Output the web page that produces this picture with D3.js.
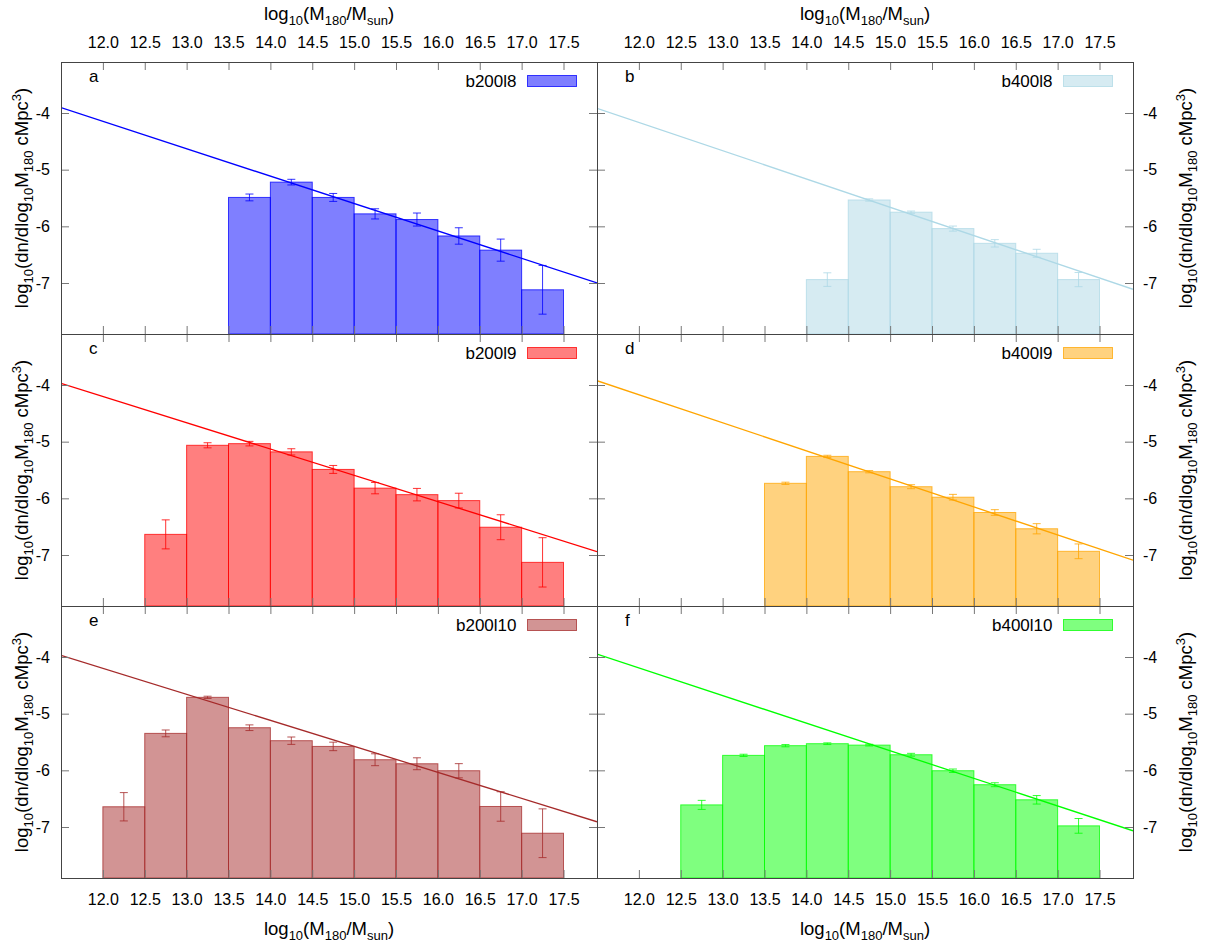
<!DOCTYPE html>
<html>
<head>
<meta charset="utf-8">
<script src="https://cdn.jsdelivr.net/npm/d3@7"></script>
<style>
  html, body { margin: 0; padding: 0; background: #fff; }
  svg { display: block; font-family: "Liberation Sans", Arial, Helvetica, sans-serif; }
</style>
</head>
<body>
<svg id="chart" width="1205" height="947"></svg>
<script>
// ---- data -------------------------------------------------------------
const xTickValues = [12.0, 12.5, 13.0, 13.5, 14.0, 14.5, 15.0, 15.5, 16.0, 16.5, 17.0, 17.5];
const yTickValues = [-4, -5, -6, -7];
const binWidth = 0.5;

const seriesNames = ["b200l8", "b400l8", "b200l9", "b400l9", "b200l10", "b400l10"];
const panelLetters = ["a", "b", "c", "d", "e", "f"];

// bin centres, log10 number density and its uncertainty for each run
const centersB200l8 = [13.75, 14.25, 14.75, 15.25, 15.75, 16.25, 16.75, 17.25];
const valuesB200l8  = [-5.49, -5.22, -5.49, -5.78, -5.88, -6.17, -6.42, -7.12];
const errorsB200l8  = [0.06, 0.05, 0.07, 0.09, 0.115, 0.145, 0.195, 0.43];

const centersB400l8 = [14.25, 14.75, 15.25, 15.75, 16.25, 16.75, 17.25];
const valuesB400l8  = [-6.94, -5.535, -5.75, -6.04, -6.30, -6.475, -6.94];
const errorsB400l8  = [0.12, 0.02, 0.02, 0.045, 0.065, 0.07, 0.125];

const centersB200l9 = [12.75, 13.25, 13.75, 14.25, 14.75, 15.25, 15.75, 16.25, 16.75, 17.25];
const valuesB200l9  = [-6.636, -5.064, -5.035, -5.18, -5.49, -5.82, -5.935, -6.04, -6.51, -7.13];
const errorsB200l9  = [0.256, 0.045, 0.04, 0.055, 0.07, 0.1, 0.11, 0.13, 0.22, 0.435];

const centersB400l9 = [13.75, 14.25, 14.75, 15.25, 15.75, 16.25, 16.75, 17.25];
const valuesB400l9  = [-5.735, -5.26, -5.53, -5.795, -5.98, -6.25, -6.537, -6.935];
const errorsB400l9  = [0.02, 0.02, 0.02, 0.035, 0.05, 0.05, 0.09, 0.13];

const centersB200l10 = [12.25, 12.75, 13.25, 13.75, 14.25, 14.75, 15.25, 15.75, 16.25, 16.75, 17.25];
const valuesB200l10  = [-6.643, -5.348, -4.712, -5.248, -5.477, -5.578, -5.813, -5.884, -6.007, -6.638, -7.11];
const errorsB200l10  = [0.25, 0.06, 0.02, 0.05, 0.065, 0.075, 0.105, 0.105, 0.125, 0.26, 0.43];

const centersB400l10 = [12.75, 13.25, 13.75, 14.25, 14.75, 15.25, 15.75, 16.25, 16.75, 17.25];
const valuesB400l10  = [-6.61, -5.736, -5.565, -5.53, -5.555, -5.725, -6.007, -6.254, -6.52, -6.98];
const errorsB400l10  = [0.08, 0.02, 0.02, 0.015, 0.015, 0.025, 0.03, 0.035, 0.075, 0.13];

// straight-line fits: log10(dn/dlogM) = intercept + slope * log10(M)
const fitSlopes     = [-0.4834, -0.499, -0.464, -0.495, -0.459, -0.487];
const fitIntercepts = [1.653, 1.8215, 1.366, 1.7685, 1.3085, 1.6505];

// ---- styles -----------------------------------------------------------
const seriesColors = ["#0000ff", "#add8e6", "#ff0000", "#ffa500", "#a52a2a", "#00ff00"];

const panels = [
  [centersB200l8, valuesB200l8, errorsB200l8],
  [centersB400l8, valuesB400l8, errorsB400l8],
  [centersB200l9, valuesB200l9, errorsB200l9],
  [centersB400l9, valuesB400l9, errorsB400l9],
  [centersB200l10, valuesB200l10, errorsB200l10],
  [centersB400l10, valuesB400l10, errorsB400l10]
].map(([c, v, e], i) => ({
  name: seriesNames[i],
  letter: panelLetters[i],
  color: seriesColors[i],
  slope: fitSlopes[i],
  intercept: fitIntercepts[i],
  bins: c.map((cc, j) => ({ c: cc, v: v[j], e: e[j] }))
}));

// ---- layout -----------------------------------------------------------
const W = 536, H = 272;
const colLeft = [61, 597];
const rowTop = [62, 334, 606];
const xDomain = [11.5, 17.9];
const yDomain = [-7.9, -3.1];
const tickFont = 16, titleFont = 18.5, subFont = 13;

const svg = d3.select("#chart");
const defs = svg.append("defs");
defs.append("clipPath").attr("id", "plotClip")
  .append("rect").attr("x", 0).attr("y", 0).attr("width", W).attr("height", H);

// text with subscripts / superscripts built from tspans
function richText(sel, parts, size, small) {
  let shift = 0;
  parts.forEach(([t, k]) => {
    const target = k === -1 ? 5 : (k === 1 ? -7 : 0);
    sel.append("tspan")
      .attr("dy", target - shift)
      .attr("font-size", k ? small : size)
      .text(t);
    shift = target;
  });
}
const xTitleParts = [["log", 0], ["10", -1], ["(M", 0], ["180", -1], ["/M", 0], ["sun", -1], [")", 0]];
const yTitleParts = [["log", 0], ["10", -1], ["(dn/dlog", 0], ["10", -1], ["M", 0], ["180", -1],
                     [" cMpc", 0], ["3", 1], [")", 0]];

function styleAxis(g) {
  g.select(".domain").remove();
  g.attr("font-family", null).attr("font-size", tickFont);
  g.selectAll(".tick line").attr("stroke", "#777").attr("stroke-width", 1);
  g.selectAll(".tick text").attr("fill", "#000");
}

panels.forEach((p, i) => {
  const col = i % 2, row = Math.floor(i / 2);
  const g = svg.append("g").attr("transform", `translate(${colLeft[col]},${rowTop[row]})`);
  const x = d3.scaleLinear().domain(xDomain).range([0, W]);
  const y = d3.scaleLinear().domain(yDomain).range([H, 0]);

  const plot = g.append("g").attr("clip-path", "url(#plotClip)");

  // histogram bars
  plot.selectAll("rect.bar").data(p.bins).join("rect")
    .attr("class", "bar")
    .attr("x", d => x(d.c - binWidth / 2))
    .attr("width", d => x(d.c + binWidth / 2) - x(d.c - binWidth / 2))
    .attr("y", d => y(d.v))
    .attr("height", d => H - y(d.v))
    .attr("fill", p.color).attr("fill-opacity", 0.5)
    .attr("stroke", p.color).attr("stroke-opacity", 0.75).attr("stroke-width", 1);

  // error bars
  const eb = plot.selectAll("g.err").data(p.bins).join("g").attr("class", "err")
    .attr("stroke", p.color).attr("stroke-opacity", 0.8).attr("stroke-width", 1);
  eb.append("line")
    .attr("x1", d => x(d.c)).attr("x2", d => x(d.c))
    .attr("y1", d => y(d.v - d.e)).attr("y2", d => y(d.v + d.e));
  eb.append("line")
    .attr("x1", d => x(d.c) - 4).attr("x2", d => x(d.c) + 4)
    .attr("y1", d => y(d.v + d.e)).attr("y2", d => y(d.v + d.e));
  eb.append("line")
    .attr("x1", d => x(d.c) - 4).attr("x2", d => x(d.c) + 4)
    .attr("y1", d => y(d.v - d.e)).attr("y2", d => y(d.v - d.e));

  // power-law fit
  const fit = d3.line().x(m => x(m)).y(m => y(p.intercept + p.slope * m));
  plot.append("path").datum(xDomain)
    .attr("d", fit)
    .attr("fill", "none").attr("stroke", p.color).attr("stroke-width", 1.3);

  // axes with inward ticks on all four sides
  const fmtX = d => d.toFixed(1);
  const fmtY = d => String(d);
  const top = g.append("g").call(
    d3.axisTop(x).tickValues(xTickValues).tickSizeInner(-8).tickSizeOuter(0)
      .tickPadding(14).tickFormat(row === 0 ? fmtX : ""));
  styleAxis(top);
  const bottom = g.append("g").attr("transform", `translate(0,${H})`).call(
    d3.axisBottom(x).tickValues(xTickValues).tickSizeInner(-8).tickSizeOuter(0)
      .tickPadding(16).tickFormat(row === 2 ? fmtX : ""));
  styleAxis(bottom);
  const left = g.append("g").call(
    d3.axisLeft(y).tickValues(yTickValues).tickSizeInner(-8).tickSizeOuter(0)
      .tickPadding(11).tickFormat(col === 0 ? fmtY : ""));
  styleAxis(left);
  const right = g.append("g").attr("transform", `translate(${W},0)`).call(
    d3.axisRight(y).tickValues(yTickValues).tickSizeInner(-8).tickSizeOuter(0)
      .tickPadding(10).tickFormat(col === 1 ? fmtY : ""));
  styleAxis(right);

  // frame
  g.append("rect").attr("x", 0.5).attr("y", 0.5).attr("width", W).attr("height", H)
    .attr("fill", "none").attr("stroke", "#444").attr("stroke-width", 1);

  // panel letter
  g.append("text").attr("x", 28).attr("y", 20).attr("font-size", 17).text(p.letter);

  // key
  g.append("text").attr("x", 455.5).attr("y", 25).attr("text-anchor", "end")
    .attr("font-size", 17).text(p.name);
  g.append("rect").attr("x", 466.5).attr("y", 13.5).attr("width", 49).attr("height", 11)
    .attr("fill", p.color).attr("fill-opacity", 0.5)
    .attr("stroke", p.color).attr("stroke-opacity", 0.75);

  // y-axis title, outside of each column
  const ty = rowTop[row] + H / 2;
  const tx = col === 0 ? 27.5 : 1192;
  const yt = svg.append("text")
    .attr("transform", `translate(${tx},${ty}) rotate(-90)`)
    .attr("text-anchor", "middle").attr("font-size", titleFont)
    .style("white-space", "pre");
  richText(yt, yTitleParts, titleFont, subFont);
});

// x-axis titles above and below each column
[0, 1].forEach(col => {
  const cx = colLeft[col] + W / 2;
  [20, 935].forEach(by => {
    const t = svg.append("text").attr("x", cx).attr("y", by)
      .attr("text-anchor", "middle").attr("font-size", titleFont);
    richText(t, xTitleParts, titleFont, subFont);
  });
});
</script>
</body>
</html>
